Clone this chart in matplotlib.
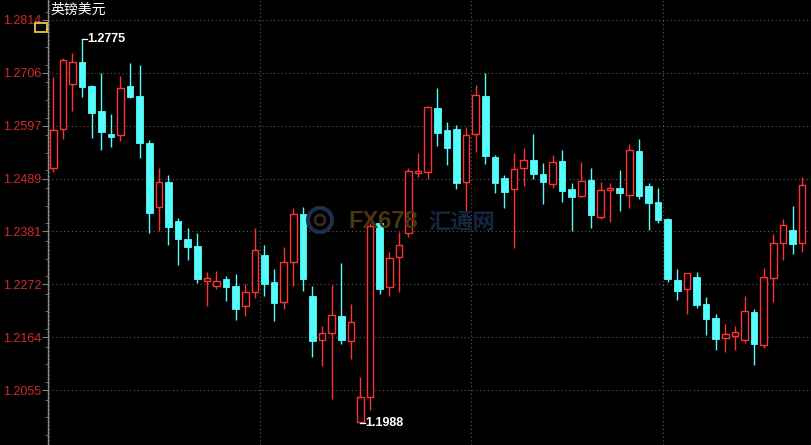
import matplotlib
matplotlib.use("Agg")
import matplotlib.pyplot as plt
from matplotlib.patches import Rectangle, Ellipse

# GBP/USD daily candles
opens = [1.2511, 1.2591, 1.2683, 1.2728, 1.2679, 1.2627, 1.2580, 1.2578, 1.2679, 1.2658,
         1.2562, 1.2431, 1.2482, 1.2402, 1.2365, 1.2351, 1.2279, 1.2269, 1.2283, 1.2269,
         1.2228, 1.2256, 1.2332, 1.2277, 1.2236, 1.2318, 1.2416, 1.2248, 1.2158, 1.2172,
         1.2207, 1.2156, 1.1990, 1.2041, 1.2398, 1.2267, 1.2328, 1.2377, 1.2500, 1.2502,
         1.2634, 1.2589, 1.2591, 1.2482, 1.2580, 1.2658, 1.2533, 1.2490, 1.2468, 1.2511,
         1.2527, 1.2498, 1.2478, 1.2525, 1.2468, 1.2453, 1.2486, 1.2410, 1.2466, 1.2470,
         1.2455, 1.2545, 1.2474, 1.2441, 1.2406, 1.2281, 1.2263, 1.2287, 1.2232, 1.2203,
         1.2162, 1.2166, 1.2158, 1.2215, 1.2148, 1.2285, 1.2357, 1.2384, 1.2357]
highs = [1.2697, 1.2736, 1.2746, 1.2775, 1.2681, 1.2705, 1.2621, 1.2699, 1.2726, 1.2722,
         1.2568, 1.2511, 1.2496, 1.2408, 1.2388, 1.2377, 1.2297, 1.2299, 1.2289, 1.2293,
         1.2273, 1.2388, 1.2353, 1.2304, 1.2349, 1.2429, 1.2431, 1.2269, 1.2187, 1.2271,
         1.2316, 1.2232, 1.2082, 1.2398, 1.2414, 1.2338, 1.2379, 1.2511, 1.2541, 1.2638,
         1.2675, 1.2605, 1.2599, 1.2595, 1.2681, 1.2705, 1.2537, 1.2496, 1.2541, 1.2552,
         1.2580, 1.2521, 1.2537, 1.2548, 1.2480, 1.2523, 1.2511, 1.2482, 1.2480, 1.2507,
         1.2560, 1.2570, 1.2480, 1.2470, 1.2408, 1.2304, 1.2295, 1.2297, 1.2246, 1.2211,
         1.2191, 1.2187, 1.2248, 1.2222, 1.2306, 1.2375, 1.2406, 1.2433, 1.2492]
lows = [1.2502, 1.2570, 1.2627, 1.2656, 1.2572, 1.2548, 1.2554, 1.2566, 1.2654, 1.2531,
        1.2377, 1.2381, 1.2353, 1.2312, 1.2322, 1.2275, 1.2228, 1.2263, 1.2238, 1.2199,
        1.2207, 1.2244, 1.2248, 1.2197, 1.2222, 1.2269, 1.2258, 1.2123, 1.2105, 1.2037,
        1.2150, 1.2119, 1.1988, 1.2015, 1.2252, 1.2248, 1.2256, 1.2369, 1.2492, 1.2488,
        1.2556, 1.2517, 1.2468, 1.2414, 1.2543, 1.2519, 1.2459, 1.2429, 1.2347, 1.2474,
        1.2488, 1.2437, 1.2470, 1.2441, 1.2381, 1.2451, 1.2388, 1.2406, 1.2400, 1.2422,
        1.2429, 1.2447, 1.2384, 1.2398, 1.2277, 1.2240, 1.2211, 1.2224, 1.2168, 1.2138,
        1.2133, 1.2138, 1.2152, 1.2107, 1.2142, 1.2236, 1.2322, 1.2334, 1.2338]
closes = [1.2589, 1.2732, 1.2728, 1.2677, 1.2623, 1.2584, 1.2574, 1.2675, 1.2656, 1.2562,
          1.2418, 1.2482, 1.2390, 1.2365, 1.2349, 1.2283, 1.2285, 1.2279, 1.2267, 1.2222,
          1.2256, 1.2343, 1.2273, 1.2234, 1.2318, 1.2416, 1.2283, 1.2156, 1.2172, 1.2209,
          1.2158, 1.2195, 1.2041, 1.2392, 1.2263, 1.2326, 1.2353, 1.2504, 1.2504, 1.2636,
          1.2582, 1.2552, 1.2480, 1.2578, 1.2660, 1.2535, 1.2480, 1.2461, 1.2509, 1.2527,
          1.2498, 1.2482, 1.2523, 1.2463, 1.2451, 1.2484, 1.2414, 1.2466, 1.2470, 1.2459,
          1.2548, 1.2453, 1.2439, 1.2404, 1.2283, 1.2258, 1.2295, 1.2230, 1.2201, 1.2160,
          1.2170, 1.2174, 1.2217, 1.2150, 1.2287, 1.2357, 1.2394, 1.2355, 1.2476]

yticks = [1.2055, 1.2164, 1.2272, 1.2381, 1.2489, 1.2597, 1.2706, 1.2814]
month_starts = [0, 22, 44, 64]
title = "英镑美元"
max_idx, max_val = 3, 1.2775
min_idx, min_val = 32, 1.1988

UP = "#ff3232"
DOWN = "#54fcfc"
GRID = "#5c5c5c"

fig = plt.figure(figsize=(8.12, 4.45), dpi=100, facecolor="black")
ax = fig.add_axes([48 / 812, 0, 764 / 812, 1], facecolor="black")

n = len(opens)
xs = list(range(n))
w = 0.68
for i in xs:
    o, h, l, c = opens[i], highs[i], lows[i], closes[i]
    if c >= o:
        ax.vlines(i, l, h, color=UP, lw=1.0, zorder=3)
        ax.bar(i, max(c - o, 0.00004), bottom=o, width=w, facecolor="black",
               edgecolor=UP, lw=1.0, zorder=4)
    else:
        ax.vlines(i, l, h, color=DOWN, lw=1.0, zorder=3)
        ax.bar(i, c - o, bottom=o, width=w, facecolor=DOWN,
               edgecolor=DOWN, lw=0.6, zorder=4)

# grid
for t in yticks:
    ax.axhline(t, color=GRID, lw=0.8, ls=(0, (1, 2.5)), zorder=1)
for m in month_starts:
    ax.axvline(m - 0.45, color=GRID, lw=0.8, ls=(0, (1, 2.5)), zorder=1)

# high / low labels
ax.plot([max_idx, max_idx + 0.5], [max_val, max_val], color="white", lw=0.9, zorder=5)
ax.text(max_idx + 0.5, max_val, "%.4f" % max_val, color="white", fontsize=9,
        fontweight="bold", va="center", ha="left", family="Liberation Sans", zorder=5)
ax.plot([min_idx, min_idx + 0.5], [min_val, min_val], color="white", lw=0.9, zorder=5)
ax.text(min_idx + 0.5, min_val, "%.4f" % min_val, color="white", fontsize=9,
        fontweight="bold", va="center", ha="left", family="Liberation Sans", zorder=5)

ax.set_xlim(-0.55, 79.03)
ax.set_ylim(1.2855 - 0.000205 * 445, 1.2855)

ax.set_yticks(yticks)
ax.set_yticklabels(["%.4f" % t for t in yticks], color="#d42a2a", fontsize=9,
                   family="Liberation Sans")
ax.yaxis.set_minor_locator(matplotlib.ticker.MultipleLocator(0.010843 / 3))
ax.tick_params(axis="y", which="major", length=4, color="#808080", pad=1)
ax.tick_params(axis="y", which="minor", length=2, color="#808080")
ax.set_xticks([])
for s in ["top", "right", "bottom"]:
    ax.spines[s].set_visible(False)
ax.spines["left"].set_color("#8a8a8a")
ax.spines["left"].set_linewidth(1.0)

# watermark
fig.patches.append(Ellipse((320 / 812, 1 - 220 / 445), 24 / 812, 24 / 445,
                           transform=fig.transFigure, facecolor="none",
                           edgecolor="#1d2f4a", lw=3, zorder=2))
fig.patches.append(Ellipse((320 / 812, 1 - 220 / 445), 10 / 812, 10 / 445,
                           transform=fig.transFigure, facecolor="none",
                           edgecolor="#3a2a18", lw=2, zorder=2))
fig.text(348 / 812, 1 - 221 / 445, "FX678", color="#4a3512", fontsize=17,
         fontweight="bold", va="center", ha="left", family="Liberation Sans", zorder=2)
fig.text(428 / 812, 1 - 222 / 445, "汇通网", color="#15263f", fontsize=16,
         fontweight="bold", va="center", ha="left", family="Noto Sans CJK SC", zorder=2)

# title and icon
fig.text(50 / 812, 1 - 10 / 445, title, color="white", fontsize=10, va="center",
         ha="left", family=["Noto Sans CJK SC", "DejaVu Sans"])
fig.patches.append(Rectangle((35 / 812, 1 - 32 / 445), 12 / 812, 9 / 445,
                             transform=fig.transFigure, facecolor="none",
                             edgecolor="#e8c84a", lw=1.3))

fig.savefig("out.png", dpi=100, facecolor="black")
